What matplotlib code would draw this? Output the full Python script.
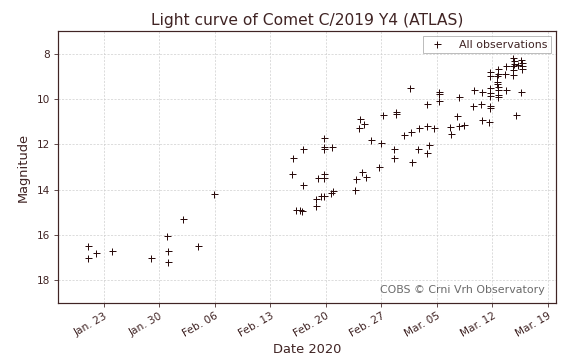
import numpy as np
import pandas as pd
import matplotlib
matplotlib.use("Agg")
import matplotlib.pyplot as plt
import matplotlib.dates as mdates

# Observation time as day of year 2020 (Jan 1 = 1), and magnitude
obs_doy = [
    21.05, 21.98, 21.05, 24.07, 28.98, 31.05, 31.17, 31.17, 33.01, 34.90, 36.92,
    46.87, 46.79, 47.21, 47.80, 48.05, 48.13, 48.13, 49.81, 49.73, 50.02, 50.44,
    50.77, 50.77, 50.77, 50.73, 50.73, 50.73, 51.83, 51.90, 51.70,
    54.76, 54.67, 55.61, 56.11, 55.36, 55.86, 55.18, 56.65, 57.70, 57.95,
    59.59, 59.59, 58.20, 59.80, 59.80, 60.85, 61.69, 61.56, 61.90, 62.61,
    62.70, 63.74, 64.62, 63.79, 63.96, 63.74, 65.25, 65.25, 65.25, 66.60,
    66.77, 67.77, 68.43, 67.52, 67.77, 69.62, 70.54, 70.63, 71.55, 71.64,
    71.64, 69.71, 70.72, 71.64, 71.73, 72.74, 72.74, 71.64, 72.65, 72.65,
    73.74, 75.58, 75.00, 72.56, 72.56, 71.64, 71.73, 72.65, 72.56, 73.57,
    74.58, 72.74, 73.74, 74.58, 74.58, 74.75, 74.75, 74.66, 75.25, 75.67,
    75.76, 75.76, 75.76,
]
obs_mag = [
    16.50, 16.81, 17.03, 16.70, 17.03, 16.04, 16.70, 17.19, 15.30, 16.50, 14.19,
    12.60, 13.30, 14.89, 14.89, 14.96, 12.20, 13.78, 14.40, 14.74, 13.49, 14.28,
    14.26, 13.30, 13.49, 11.70, 12.12, 12.20, 12.12, 14.05, 14.15,
    13.53, 14.02, 13.22, 13.42, 10.88, 11.08, 11.27, 11.81, 13.00, 11.94,
    12.20, 12.60, 10.69, 10.58, 10.64, 11.57, 11.47, 9.50, 12.77, 12.20,
    11.27, 11.17, 11.27, 10.21, 12.03, 12.38, 9.67, 9.79, 10.10, 11.23,
    11.53, 11.17, 11.13, 10.73, 9.90, 10.29, 10.20, 10.94, 11.00, 10.32,
    10.39, 9.61, 9.70, 9.73, 9.85, 9.80, 9.92, 9.50, 9.46, 9.61,
    9.61, 9.70, 10.70, 9.23, 9.33, 8.81, 8.96, 8.87, 8.99, 8.87,
    8.92, 8.66, 8.55, 8.69, 8.18, 8.33, 8.43, 8.52, 8.47, 8.28,
    8.40, 8.52, 8.66,
]
tick_dates = ["2020-01-23", "2020-01-30", "2020-02-06", "2020-02-13", "2020-02-20",
              "2020-02-27", "2020-03-05", "2020-03-12", "2020-03-19"]
y_ticks = [8, 10, 12, 14, 16, 18]

text_c = "#402424"
mark_c = "#2a0c0c"

dates = pd.Timestamp("2020-01-01") + pd.to_timedelta(np.array(obs_doy) - 1, unit="D")

fig = plt.figure(figsize=(576 / 72, 363 / 72), dpi=72)
ax = fig.add_axes([0.1, 0.1644, 0.865, 0.749])

ax.plot(dates, obs_mag, linestyle="none", marker="+", markersize=7,
        markeredgewidth=1.0, color=mark_c, label="All observations")

ax.set_xlim(pd.Timestamp("2020-01-01") + pd.Timedelta(days=16.2),
            pd.Timestamp("2020-01-01") + pd.Timedelta(days=79.0))
ax.set_ylim(19.03, 7.0)
ax.set_yticks(y_ticks)
ax.set_xticks(pd.to_datetime(tick_dates))
ax.xaxis.set_major_formatter(mdates.DateFormatter("%b. %d"))

ax.grid(True, linestyle=(0, (3, 2)), color="#cfcfcf", linewidth=0.7)
ax.set_axisbelow(True)
for s in ax.spines.values():
    s.set_color(text_c)
    s.set_linewidth(1.2)
ax.tick_params(axis="both", colors=text_c, labelsize=10.5, length=4, width=0.8)
plt.setp(ax.get_xticklabels(), rotation=30, ha="right", rotation_mode="anchor")

ax.set_title("Light curve of Comet C/2019 Y4 (ATLAS)", color=text_c, fontsize=15.5, pad=6)
ax.set_xlabel("Date 2020", color=text_c, fontsize=13)
ax.set_ylabel("Magnitude", color=text_c, fontsize=13, labelpad=7)

leg = ax.legend(loc="upper right", fontsize=11, frameon=True, fancybox=False,
                borderpad=0.3, handletextpad=1.0, borderaxespad=0.45)
leg.get_frame().set_edgecolor("#999999")
leg.get_frame().set_linewidth(0.8)
for t in leg.get_texts():
    t.set_color(text_c)

ax.text(0.978, 0.03, "COBS © Crni Vrh Observatory", transform=ax.transAxes,
        ha="right", va="bottom", fontsize=11, color="#6b6b6b")

fig.savefig("out.png", dpi=72)
